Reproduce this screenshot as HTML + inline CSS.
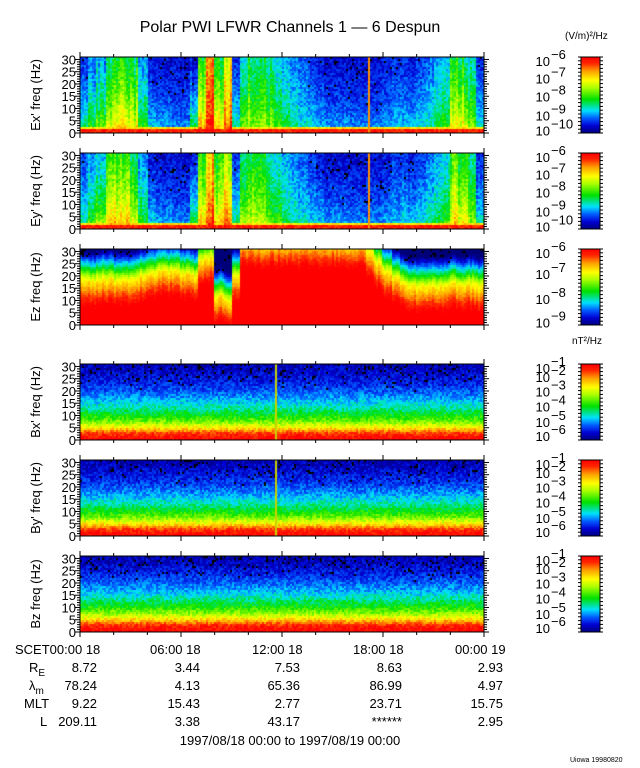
<!DOCTYPE html>
<html><head><meta charset="utf-8"><style>
html,body{margin:0;padding:0;background:#fff;width:640px;height:768px;overflow:hidden}
#cv{position:absolute;left:0;top:0}
#sv{position:absolute;left:0;top:0}
text{font-family:"Liberation Sans",sans-serif;fill:#000}
</style></head><body>
<canvas id="cv" width="640" height="768"></canvas>
<svg id="sv" width="640" height="768"></svg>
<script>
// ---- data (48 half-hour bins, normalized colour level 0..1) ----
const exTop=[0.15,0.2,0.25,0.4,0.45,0.45,0.4,0.25,0.12,0.1,0.1,0.1,0.1,0.12,0.45,0.8,0.4,0.7,0.15,0.35,0.4,0.4,0.35,0.3,0.25,0.22,0.2,0.15,0.12,0.1,0.1,0.1,0.1,0.1,0.1,0.1,0.12,0.15,0.15,0.12,0.15,0.2,0.25,0.3,0.45,0.4,0.35,0.15];
const exBot=[0.5,0.6,0.7,0.85,0.9,0.9,0.85,0.6,0.4,0.35,0.35,0.3,0.3,0.6,0.95,1,0.9,1,0.5,0.7,0.7,0.7,0.65,0.6,0.5,0.45,0.4,0.38,0.35,0.33,0.33,0.33,0.3,0.3,0.3,0.3,0.33,0.35,0.38,0.38,0.4,0.45,0.5,0.6,0.85,0.85,0.7,0.45];
const eyTop=[0.17,0.25,0.3,0.45,0.5,0.45,0.42,0.25,0.12,0.1,0.1,0.1,0.1,0.12,0.5,0.75,0.45,0.6,0.15,0.35,0.4,0.4,0.35,0.3,0.25,0.22,0.2,0.15,0.12,0.1,0.1,0.1,0.1,0.1,0.1,0.1,0.12,0.15,0.15,0.12,0.15,0.2,0.25,0.3,0.5,0.45,0.35,0.15];
const eyBot=[0.5,0.65,0.75,0.9,0.9,0.9,0.85,0.6,0.4,0.35,0.35,0.3,0.3,0.6,0.95,1,0.9,1,0.5,0.7,0.75,0.7,0.65,0.6,0.5,0.45,0.42,0.4,0.38,0.35,0.35,0.33,0.3,0.3,0.3,0.3,0.33,0.35,0.4,0.4,0.4,0.45,0.5,0.6,0.85,0.85,0.7,0.45];
const ezEdge=[19,18,19,19,18,18,19,20,21,22,22,22,21,20,27,28,12,10,20,34,34,34,34,34,34,34,34,34,34,34,34,34,34,34,30,26,22,19,17,16,16,16,16,16,17,16,17,16];
const bFreqs=[0,2.5,5,7.5,10,12.5,15,17.5,20,22.5,25,27.5,30];
const bxProf=[1,0.93,0.72,0.55,0.45,0.37,0.3,0.24,0.19,0.15,0.12,0.09,0.07];
const byProf=[1,0.93,0.72,0.55,0.45,0.37,0.3,0.24,0.19,0.15,0.12,0.09,0.07];
const bzProf=[1,0.95,0.75,0.58,0.47,0.39,0.31,0.25,0.2,0.16,0.12,0.09,0.07];
const spikeHours=[{p:0,h:17.1},{p:1,h:17.1},{p:3,h:11.6},{p:4,h:11.6}];
const timeTicks=['SCET00:00 18','06:00 18','12:00 18','18:00 18','00:00 19'];
const reVals=['8.72','3.44','7.53','8.63','2.93'];
const latVals=['78.24','4.13','65.36','86.99','4.97'];
const mltVals=['9.22','15.43','2.77','23.71','15.75'];
const lVals=['209.11','3.38','43.17','******','2.95'];

// ---- layout ----
const X0=80,X1=484;
const panels=[{y:57,t:"Ex' freq (Hz)"},{y:153,t:"Ey' freq (Hz)"},{y:249,t:"Ez freq (Hz)"},{y:364,t:"Bx' freq (Hz)"},{y:460,t:"By' freq (Hz)"},{y:556,t:"Bz freq (Hz)"}];
const PH=76;
const xOf=h=>X0+(X1-X0)*h/24;
const yOf=(p,f)=>panels[p].y+PH-PH*f/31;

const stops=[[0,[0,0,120]],[0.1,[0,0,210]],[0.2,[0,90,255]],[0.3,[0,225,255]],[0.45,[0,225,0]],[0.6,[170,255,0]],[0.7,[255,255,0]],[0.82,[255,160,0]],[0.92,[255,40,0]],[1,[255,0,0]]];
function cmap(v){v=Math.max(0,Math.min(1,v));for(let i=1;i<stops.length;i++){if(v<=stops[i][0]){const a=stops[i-1],b=stops[i],t=(v-a[0])/(b[0]-a[0]);return a[1].map((c,k)=>Math.round(c+(b[1][k]-c)*t));}}return stops[stops.length-1][1];}
function hash(a,b){let h=(a*374761393+b*668265263)|0;h=(h^(h>>>13))*1274126177;h=h^(h>>>16);return ((h>>>0)%10000)/10000;}
function interp(arr,t){const x=t*(arr.length-1);const i=Math.min(arr.length-2,Math.floor(x));const f=x-i;return arr[i]*(1-f)+arr[i+1]*f;}
function binVal(arr,h){return arr[Math.min(arr.length-1,Math.floor(h/24*arr.length))];}

function level(p,h,f,ci){
  if(p<2){const top=binVal(p==0?exTop:eyTop,h),bot=binVal(p==0?exBot:eyBot,h);
    const streak=(hash(ci*7+p,3)-0.5)*0.25*(bot-0.3);
    let v=bot+(top-bot)*Math.pow(f/30,0.45)+streak;
    if(f<1.5)v=Math.max(v,0.95);else if(f<2.5)v=Math.max(v,0.72);
    return v;}
  if(p==2){const e=binVal(ezEdge,h);const d=f-e;
    return (d>0?0.7-0.06*d:0.7-0.03*d)+(hash(ci,11)-0.5)*0.08;}
  const prof=p==3?bxProf:p==4?byProf:bzProf;return interp(prof,f/30);
}

const cv=document.getElementById('cv'),ctx=cv.getContext('2d');
const CW=2,RH=2;
panels.forEach((pn,p)=>{
  const cols=Math.round((X1-X0)/CW),rows=Math.round(PH/RH);
  for(let ci=0;ci<cols;ci++){const h=(ci+0.5)/cols*24;
    for(let ri=0;ri<rows;ri++){const f=(ri+0.5)/rows*31;
      let v=level(p,h,f,ci)+(hash(ci+p*1000,ri)-0.5)*(p==2?0.06:0.13);
      let c=cmap(v);
      if(v<0.13&&hash(ri+p*77,ci*3)<0.1)c=[0,0,0];
      ctx.fillStyle='rgb('+c+')';ctx.fillRect(X0+ci*CW,pn.y+PH-(ri+1)*RH,CW,RH);}}
});
spikeHours.forEach(s=>{const x=xOf(s.h);ctx.fillStyle=s.p<2?'#ff9000':'#c8d000';ctx.fillRect(Math.round(x),panels[s.p].y,2,PH);});
// colorbars
panels.forEach(pn=>{for(let i=0;i<PH;i++){ctx.fillStyle='rgb('+cmap(1-i/PH)+')';ctx.fillRect(581,pn.y+i,19,1);}});

// ---- SVG overlay ----
const NS='http://www.w3.org/2000/svg',sv=document.getElementById('sv');
function el(t,a,parent){const e=document.createElementNS(NS,t);for(const k in a)e.setAttribute(k,a[k]);(parent||sv).appendChild(e);return e;}
function txt(s,x,y,size,anchor,parent){const e=el('text',{x:x,y:y,'font-size':size,'text-anchor':anchor||'start'},parent);e.textContent=s;return e;}

const title=txt('Polar PWI LFWR Channels 1 \u2014 6 Despun',290,32,16,'middle');


const u1=txt('(V/m)\u00b2/Hz',565,39,10,'start');


const u2=txt('nT\u00b2/Hz',572,344,10,'start');



panels.forEach((pn,p)=>{
  const g=el('g',{});
  
  
  el('rect',{x:X0,y:pn.y,width:X1-X0,height:PH,fill:'none',stroke:'#000','stroke-width':1},g);
  for(let f=0;f<=30;f++){const y=yOf(p,f),L=f%5==0?5:3;
    el('line',{x1:X0-L,x2:X0,y1:y,y2:y,stroke:'#000','stroke-width':1},g);
    el('line',{x1:X1,x2:X1+L,y1:y,y2:y,stroke:'#000','stroke-width':1},g);
    if(f%5==0){const t=txt(String(f),76,y+5,13,'end',g);}}
  for(let h=0;h<=24;h+=2){const x=xOf(h),L=h%6==0?5:3;
    el('line',{x1:x,x2:x,y1:pn.y+PH,y2:pn.y+PH+L,stroke:'#000'},g);
    el('line',{x1:x,x2:x,y1:pn.y,y2:pn.y-L,stroke:'#000'},g);}
  const yt=txt(pn.t,0,0,13,'middle',g);
  yt.setAttribute('transform','translate(40,'+(pn.y+PH/2)+') rotate(-90)');
  
  
  // colorbar
  const cb=el('g',{},g);
  
  
  el('rect',{x:581,y:pn.y,width:19,height:PH,fill:'none',stroke:'#000'},cb);
  for(let i=0;i<=20;i++){const y=pn.y+i*PH/20;el('line',{x1:578,x2:581,y1:y,y2:y,stroke:'#000'},cb);el('line',{x1:600,x2:603,y1:y,y2:y,stroke:'#000'},cb);}
  let exps,pos;
  if(p<2){exps=[6,7,8,9,10];pos=[0.05,0.28,0.52,0.77,0.97];}
  else if(p==2){exps=[6,7,8,9];pos=[0.05,0.33,0.66,0.97];}
  else {exps=[1,2,3,4,5,6];pos=[0.05,0.17,0.36,0.56,0.76,0.95];}
  exps.forEach((e,i)=>{const y=pn.y+pos[i]*PH+5;
    const t=el('text',{x:550,y:y,'font-size':13,'text-anchor':'end'},cb);t.textContent='10';
    
    
    txt('\u2212'+e,551,y-7,13,'start',cb);});
});

// bottom table
const tb=el('g',{});


const tx=[15,150,252,353,455];
timeTicks.forEach((s,i)=>{const t=txt(s,tx[i],654,13,'start',tb);});
const rx=[97,200,300,402,503];
const rows=[[reVals,672],[latVals,690],[mltVals,708],[lVals,726]];
rows.forEach(r=>r[0].forEach((s,i)=>txt(s,rx[i],r[1],13,'end',tb)));
const re=txt('R',29,672,13,'start',tb);const reS=el('tspan',{dy:4,'font-size':10},re);reS.textContent='E';
const lm=txt('\u03bb',29,690,13,'start',tb);const lmS=el('tspan',{dy:4,'font-size':10},lm);lmS.textContent='m';
txt('MLT',24,708,13,'start',tb);
txt('L',40,726,13,'start',tb);
const dr=txt('1997/08/18 00:00 to 1997/08/19 00:00',290,745,13,'middle',tb);


const ft=txt('Uiowa 19980820',570,762,7,'start');


</script>
</body></html>
